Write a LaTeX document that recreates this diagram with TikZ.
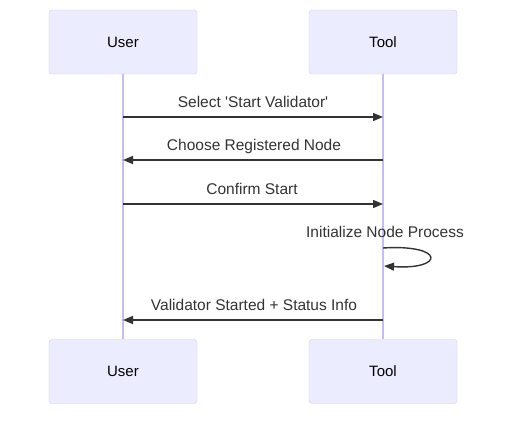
\documentclass[tikz,border=0pt]{standalone}
\usepackage{fontspec}
\newfontfamily\lbfont{Liberation Sans}
\usetikzlibrary{arrows.meta}
\definecolor{actfill}{HTML}{ECECFF}
\definecolor{actline}{HTML}{D3C8F0}
\definecolor{lifeline}{HTML}{C9BCF2}
\definecolor{msg}{HTML}{333333}
\begin{document}
\begin{tikzpicture}[x=1pt,y=-1pt,
  actor/.style={draw=actline,fill=actfill,rounded corners=3pt,minimum width=148pt,minimum height=64pt,inner sep=0pt,font=\lbfont\fontsize{15}{17}\selectfont},
  life/.style={draw=lifeline,line width=1.2pt},
  msgline/.style={draw=msg,line width=1.4pt,-{Triangle[length=10pt,width=8pt]}},
  lbl/.style={font=\lbfont\fontsize{15.5}{17}\selectfont,text=msg,inner sep=0pt}]
\useasboundingbox (0,0) rectangle (516,421);
\node[actor] (u1) at (123,42) {User};
\node[actor] (t1) at (383,42) {Tool};
\node[actor] (u2) at (123,371.5) {User};
\node[actor] (t2) at (383,371.5) {Tool};
\draw[life] (u1.south) -- (u2.north);
\draw[life] (t1.south) -- (t2.north);
\coordinate (a1) at (123,117); \coordinate (b1) at (383,117);
\coordinate (a2) at (123,160); \coordinate (b2) at (383,160);
\coordinate (a3) at (123,204); \coordinate (b3) at (383,204);
\coordinate (s1) at (383,248); \coordinate (s2) at (384,266);
\coordinate (a5) at (123,320); \coordinate (b5) at (383,320);
\draw[msgline] (a1) -- (b1);
\node[lbl] (l1) at (253,102) {Select 'Start Validator'};
\draw[msgline] (b2) -- (a2);
\node[lbl] (l2) at (254,146) {Choose Registered Node};
\draw[msgline] (a3) -- (b3);
\node[lbl] (l3) at (252,189) {Confirm Start};
\node[lbl] (l4) at (385,232) {Initialize Node Process};
\draw[msgline] (s1) .. controls (445,244) and (445,270) .. (s2);
\draw[msgline] (b5) -- (a5);
\node[lbl] (l5) at (254,305) {Validator Started + Status Info};
\end{tikzpicture}
\end{document}
